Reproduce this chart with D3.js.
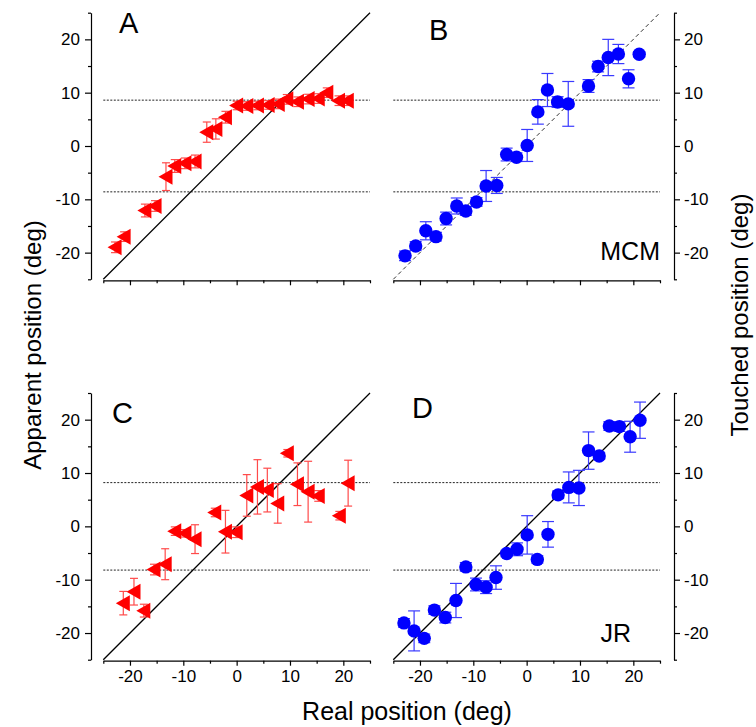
<!DOCTYPE html>
<html>
<head>
<meta charset="utf-8">
<script src="https://cdn.jsdelivr.net/npm/d3@7"></script>
<style>
  body { margin: 0; background: #fff; }
  text { font-family: 'Liberation Sans', Arial, sans-serif; }
</style>
</head>
<body>
<svg id="chart" width="756" height="727"></svg>
<script>
// panel A - subject MCM, apparent position
const aReal = [-22.8, -21.1, -17.2, -15.3, -13.25, -11.6, -9.7, -7.8, -5.6, -3.9, -2.1, 0, 1.9, 3.9, 5.9, 7.8, 9.4, 11.4, 13.4, 15.3, 16.9, 19.1, 20.75]
const aApparent = [-19, -17, -12.1, -11.25, -5.75, -3.75, -3.25, -2.9, 2.6, 3.2, 5.4, 7.6, 7.5, 7.6, 7.7, 7.9, 8.75, 8.3, 8.8, 8.9, 10, 8.5, 8.5]
const aErr = [1, 0.9, 1.2, 1, 2.6, 1.2, 1, 1.2, 1.9, 1.9, 1.1, 0.8, 0.8, 0.8, 0.8, 0.9, 0.9, 0.9, 0.9, 0.9, 0.9, 0.9, 0.9]

// panel B - subject MCM, touched position
const bReal = [-22.8, -20.8, -18.9, -17, -15.1, -13.1, -11.4, -9.4, -7.6, -5.6, -3.75, -1.9, 0.1, 2.1, 3.9, 5.8, 7.8, 11.6, 13.4, 15.3, 17.2, 19.1, 21.1]
const bTouched = [-20.6, -18.75, -15.9, -17, -13.6, -11.25, -12.2, -10.5, -7.5, -7.4, -1.6, -2.1, 0.1, 6.4, 10.5, 8.25, 7.9, 11.25, 14.9, 16.6, 17.25, 12.6, 17.2]
const bErr = [0.9, 0.8, 1.7, 0.8, 1.2, 1.5, 0.8, 0.8, 2.9, 1.5, 1.2, 0.8, 3, 2.3, 3.1, 1, 4.2, 1.2, 1, 3.4, 1.8, 1.7, 0.5]

// panel C - subject JR, apparent position
const cReal = [-21.25, -19.25, -17.4, -15.5, -13.4, -11.6, -9.7, -7.8, -4.1, -2.1, -0.1, 1.9, 3.9, 5.75, 7.7, 9.5, 11.4, 13.4, 15.3, 19.25, 20.9]
const cApparent = [-14.4, -12.25, -15.8, -8.1, -7.1, -0.9, -1.3, -2.4, 2.6, -1, -1.1, 5.8, 7.4, 6.8, 4.3, 13.7, 7.9, 6.5, 5.7, 2, 8.1]
const cErr = [2.2, 2.5, 1.2, 1, 2.9, 0.8, 0.7, 2.7, 0.8, 4, 1, 3.9, 5.1, 4.1, 3.7, 0.7, 4, 5.7, 1, 0.8, 4.3]

// panel D - subject JR, touched position
const dReal = [-23, -21.1, -19.2, -17.3, -15.25, -13.25, -11.4, -9.5, -7.6, -5.75, -3.75, -1.8, 0.1, 2, 4, 5.9, 7.9, 9.8, 11.6, 13.6, 15.5, 17.4, 19.4, 21.25]
const dTouched = [-18.1, -19.6, -21, -15.7, -17.1, -13.9, -7.6, -10.9, -11.4, -9.6, -5.1, -4.3, -1.6, -6.2, -1.5, 5.9, 7.3, 7.2, 14.2, 13.2, 18.8, 18.7, 16.8, 19.9]
const dErr = [0.8, 3.75, 0.8, 0.8, 1, 3.2, 0.8, 1.2, 1.2, 2.2, 0.6, 1.2, 3.6, 0.7, 2.4, 0.7, 2.9, 3.3, 3.5, 0.6, 0.8, 0.9, 2.9, 3.4]

// dotted reference levels (deg)
const mcmLimit = 8.6
const jrLimit = 8.2

const axisTicks = d3.range(-25, 26, 5)

const svg = d3.select('#chart')

const panels = [
  { letter: 'A', x: aReal, y: aApparent, err: aErr, marker: 'tri', limit: mcmLimit, diag: 'solid',
    xr: [103.3, 370], yr: [279.3, 12.7], side: 'left', letterPos: [119, 33], bottom: false },
  { letter: 'B', x: bReal, y: bTouched, err: bErr, marker: 'dot', limit: mcmLimit, diag: 'dashed',
    xr: [393.3, 660], yr: [279.3, 12.7], side: 'right', letterPos: [429, 40], bottom: false, subject: 'MCM', subjPos: [660, 260] },
  { letter: 'C', x: cReal, y: cApparent, err: cErr, marker: 'tri', limit: jrLimit, diag: 'solid',
    xr: [103.3, 370], yr: [659.7, 393], side: 'left', letterPos: [112, 423], bottom: true },
  { letter: 'D', x: dReal, y: dTouched, err: dErr, marker: 'dot', limit: jrLimit, diag: 'solid',
    xr: [393.3, 660], yr: [659.7, 393], side: 'right', letterPos: [412, 418], bottom: true, subject: 'JR', subjPos: [631, 642] },
]

const fmt = (d) => (d % 10 === 0 ? String(d) : '')

panels.forEach(function (p) {
  const xScale = d3.scaleLinear().domain([-25, 25]).range(p.xr)
  const yScale = d3.scaleLinear().domain([-25, 25]).range(p.yr)
  const g = svg.append('g').attr('id', 'panel' + p.letter)
  const red = p.marker === 'tri'
  const color = red ? '#ff0000' : '#0000ff'
  const barColor = red ? '#ff4a4a' : '#3a3aff'

  // y axis, offset from the plot like the original
  const yAxis = p.side === 'left'
    ? d3.axisLeft(yScale).tickValues(axisTicks).tickFormat(fmt).tickSize(6).tickPadding(5).tickSizeOuter(0)
    : d3.axisRight(yScale).tickValues(axisTicks).tickFormat(fmt).tickSize(6).tickPadding(4).tickSizeOuter(0)
  const ya = g.append('g')
    .attr('transform', `translate(${p.side === 'left' ? 91 : 674},0)`)
    .call(yAxis)
  ya.selectAll('.tick line')
    .filter((d) => d % 10 !== 0)
    .attr('x2', p.side === 'left' ? -3 : 3)

  // x axis
  const xAxis = d3.axisBottom(xScale).tickValues(axisTicks)
    .tickFormat(p.bottom ? fmt : () => '')
    .tickSize(5).tickPadding(4).tickSizeOuter(0)
  const xa = g.append('g')
    .attr('transform', `translate(0,${p.yr[0] + 1})`)
    .call(xAxis)
  xa.selectAll('.tick line')
    .filter((d) => d % 10 !== 0)
    .attr('y2', 3)

  g.selectAll('.domain').attr('stroke', '#000').attr('stroke-width', 1.2)
  g.selectAll('.tick line').attr('stroke', '#000').attr('stroke-width', 1.2)
  g.selectAll('.tick text')
    .attr('font-family', "'Liberation Sans', Arial, sans-serif")
    .attr('font-size', 17)
    .attr('fill', '#000')

  // dotted limits
  g.selectAll('line.limit')
    .data([p.limit, -p.limit])
    .join('line')
    .attr('class', 'limit')
    .attr('x1', xScale(-25))
    .attr('x2', xScale(25))
    .attr('y1', (d) => yScale(d))
    .attr('y2', (d) => yScale(d))
    .attr('stroke', '#222')
    .attr('stroke-width', 1)
    .attr('stroke-dasharray', '2,1.5')

  // identity line
  g.append('line')
    .attr('x1', xScale(-25))
    .attr('y1', yScale(-25))
    .attr('x2', xScale(25))
    .attr('y2', yScale(25))
    .attr('stroke', p.diag === 'solid' ? '#000' : '#333')
    .attr('stroke-width', p.diag === 'solid' ? 1.3 : 1)
    .attr('stroke-dasharray', p.diag === 'solid' ? null : '4,3')

  const pts = p.x.map((v, i) => ({ x: v, y: p.y[i], e: p.err[i] }))
  const cap = red ? 4 : 6

  // error bars
  const bars = g.append('g').selectAll('g').data(pts).join('g')
  bars.append('line')
    .attr('x1', (d) => xScale(d.x)).attr('x2', (d) => xScale(d.x))
    .attr('y1', (d) => yScale(d.y - d.e)).attr('y2', (d) => yScale(d.y + d.e))
  bars.selectAll('line.cap')
    .data((d) => [d.y - d.e, d.y + d.e].map((v) => ({ x: d.x, v })))
    .join('line')
    .attr('class', 'cap')
    .attr('x1', (d) => xScale(d.x) - cap).attr('x2', (d) => xScale(d.x) + cap)
    .attr('y1', (d) => yScale(d.v)).attr('y2', (d) => yScale(d.v))
  bars.selectAll('line').attr('stroke', barColor).attr('stroke-width', 1.2)

  // markers
  if (red) {
    g.append('g').selectAll('path').data(pts).join('path')
      .attr('transform', (d) => `translate(${xScale(d.x)},${yScale(d.y)})`)
      .attr('d', 'M-7.5,0L6.5,-8L6.5,8Z')
      .attr('fill', color)
  } else {
    g.append('g').selectAll('circle').data(pts).join('circle')
      .attr('cx', (d) => xScale(d.x))
      .attr('cy', (d) => yScale(d.y))
      .attr('r', 6.7)
      .attr('fill', color)
  }

  // panel letter
  g.append('text')
    .attr('x', p.letterPos[0]).attr('y', p.letterPos[1])
    .attr('font-size', 29)
    .text(p.letter)

  if (p.subject) {
    g.append('text')
      .attr('x', p.subjPos[0]).attr('y', p.subjPos[1])
      .attr('text-anchor', 'end')
      .attr('font-size', 25)
      .text(p.subject)
  }
})

// axis titles
svg.append('text')
  .attr('transform', 'translate(41,345) rotate(-90)')
  .attr('text-anchor', 'middle')
  .attr('font-size', 24)
  .text('Apparent position (deg)')

svg.append('text')
  .attr('transform', 'translate(748,315) rotate(-90)')
  .attr('text-anchor', 'middle')
  .attr('font-size', 24)
  .text('Touched position (deg)')

svg.append('text')
  .attr('x', 407).attr('y', 720)
  .attr('text-anchor', 'middle')
  .attr('font-size', 25)
  .text('Real position (deg)')
</script>
</body>
</html>
